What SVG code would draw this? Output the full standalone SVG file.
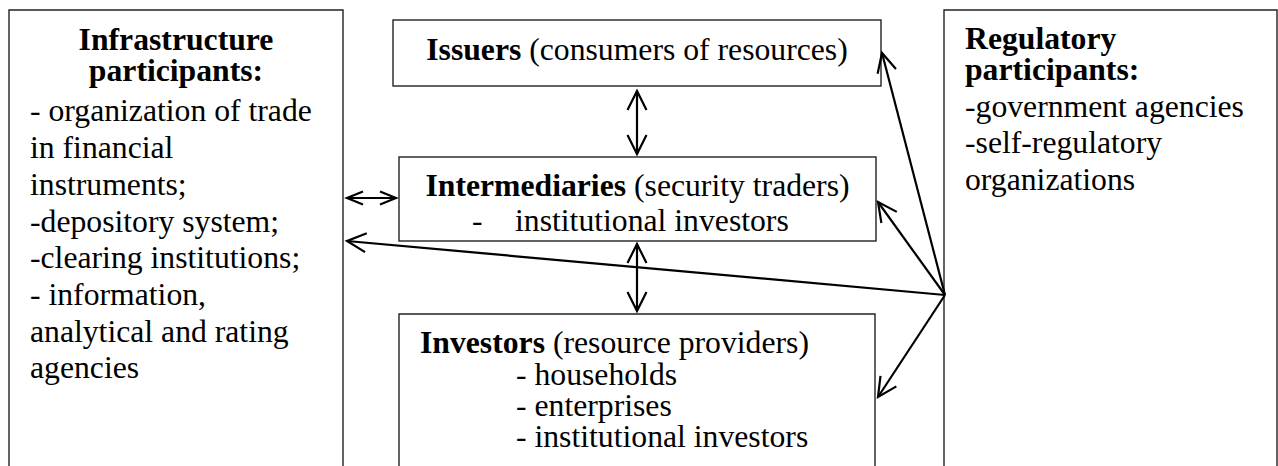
<svg xmlns="http://www.w3.org/2000/svg" width="1278" height="466" viewBox="0 0 1278 466">
  <style>
    .box { fill: #ffffff; stroke: #222222; stroke-width: 1.4; }
    .t { font-family: "Liberation Serif", "Times New Roman", serif; font-size: 31.7px; fill: #000000; }
    .b { font-weight: bold; }
    .mid { text-anchor: middle; }
    .con { fill: none; stroke: #000000; stroke-width: 2.2; }
  </style>
  <defs>
    <marker id="ah" markerUnits="userSpaceOnUse" viewBox="-22 -12 24 24" refX="0" refY="0" markerWidth="24" markerHeight="24" orient="auto-start-reverse" overflow="visible">
      <path d="M-19,-9.5 L0,0 L-19,9.5" fill="none" stroke="#000000" stroke-width="2.2" stroke-linejoin="miter"/>
    </marker>
    <marker id="ahs" markerUnits="userSpaceOnUse" viewBox="-22 -12 24 24" refX="0" refY="0" markerWidth="24" markerHeight="24" orient="auto-start-reverse" overflow="visible">
      <path d="M-16,-6.5 L0,0 L-16,6.5" fill="none" stroke="#000000" stroke-width="2.2"/>
    </marker>
  </defs>

  <g id="infrastructure">
    <path class="box" d="M9,470 V10 H343 V470"/>
    <text class="t b mid"><tspan x="176" y="50">Infrastructure</tspan><tspan x="176" y="81">participants:</tspan></text>
    <text class="t"><tspan x="30" y="121">- organization of trade</tspan><tspan x="30" y="158">in financial</tspan><tspan x="30" y="195">instruments;</tspan><tspan x="30" y="232">-depository system;</tspan><tspan x="30" y="268">-clearing institutions;</tspan><tspan x="30" y="305">- information,</tspan><tspan x="30" y="342">analytical and rating</tspan><tspan x="30" y="378">agencies</tspan></text>
  </g>

  <g id="issuers">
    <rect class="box" x="393" y="20" width="488" height="66"/>
    <text class="t mid" x="637" y="60"><tspan class="b">Issuers</tspan> (consumers of resources)</text>
  </g>

  <g id="intermediaries">
    <rect class="box" x="399" y="157" width="477" height="84"/>
    <text class="t"><tspan x="637.5" y="196" text-anchor="middle"><tspan class="b">Intermediaries</tspan> (security traders)</tspan><tspan x="472" y="231">-</tspan><tspan x="515" y="231">institutional investors</tspan></text>
  </g>

  <g id="investors">
    <path class="box" d="M399,470 V314 H875 V470"/>
    <text class="t"><tspan x="420" y="353"><tspan class="b">Investors</tspan> (resource providers)</tspan><tspan x="516" y="385">- households</tspan><tspan x="516" y="416">- enterprises</tspan><tspan x="516" y="447">- institutional investors</tspan></text>
  </g>

  <g id="regulatory">
    <path class="box" d="M944,470 V10 H1277 V470"/>
    <text class="t b"><tspan x="965" y="49">Regulatory</tspan><tspan x="965" y="80">participants:</tspan></text>
    <text class="t"><tspan x="965" y="117">-government agencies</tspan><tspan x="965" y="153">-self-regulatory</tspan><tspan x="965" y="190">organizations</tspan></text>
  </g>

  <g id="connectors">
    <line class="con" x1="637" y1="91" x2="637" y2="154" marker-start="url(#ah)" marker-end="url(#ah)"/>
    <line class="con" x1="637" y1="244" x2="637" y2="311" marker-start="url(#ah)" marker-end="url(#ah)"/>
    <line class="con" x1="347" y1="198" x2="396" y2="198" marker-start="url(#ahs)" marker-end="url(#ahs)"/>
    <line class="con" x1="945" y1="295" x2="882" y2="53" marker-end="url(#ah)"/>
    <line class="con" x1="945" y1="295" x2="878" y2="202" marker-end="url(#ah)"/>
    <line class="con" x1="945" y1="295" x2="878" y2="397" marker-end="url(#ah)"/>
    <line class="con" x1="945" y1="295" x2="347" y2="241" marker-end="url(#ah)"/>
  </g>
</svg>
